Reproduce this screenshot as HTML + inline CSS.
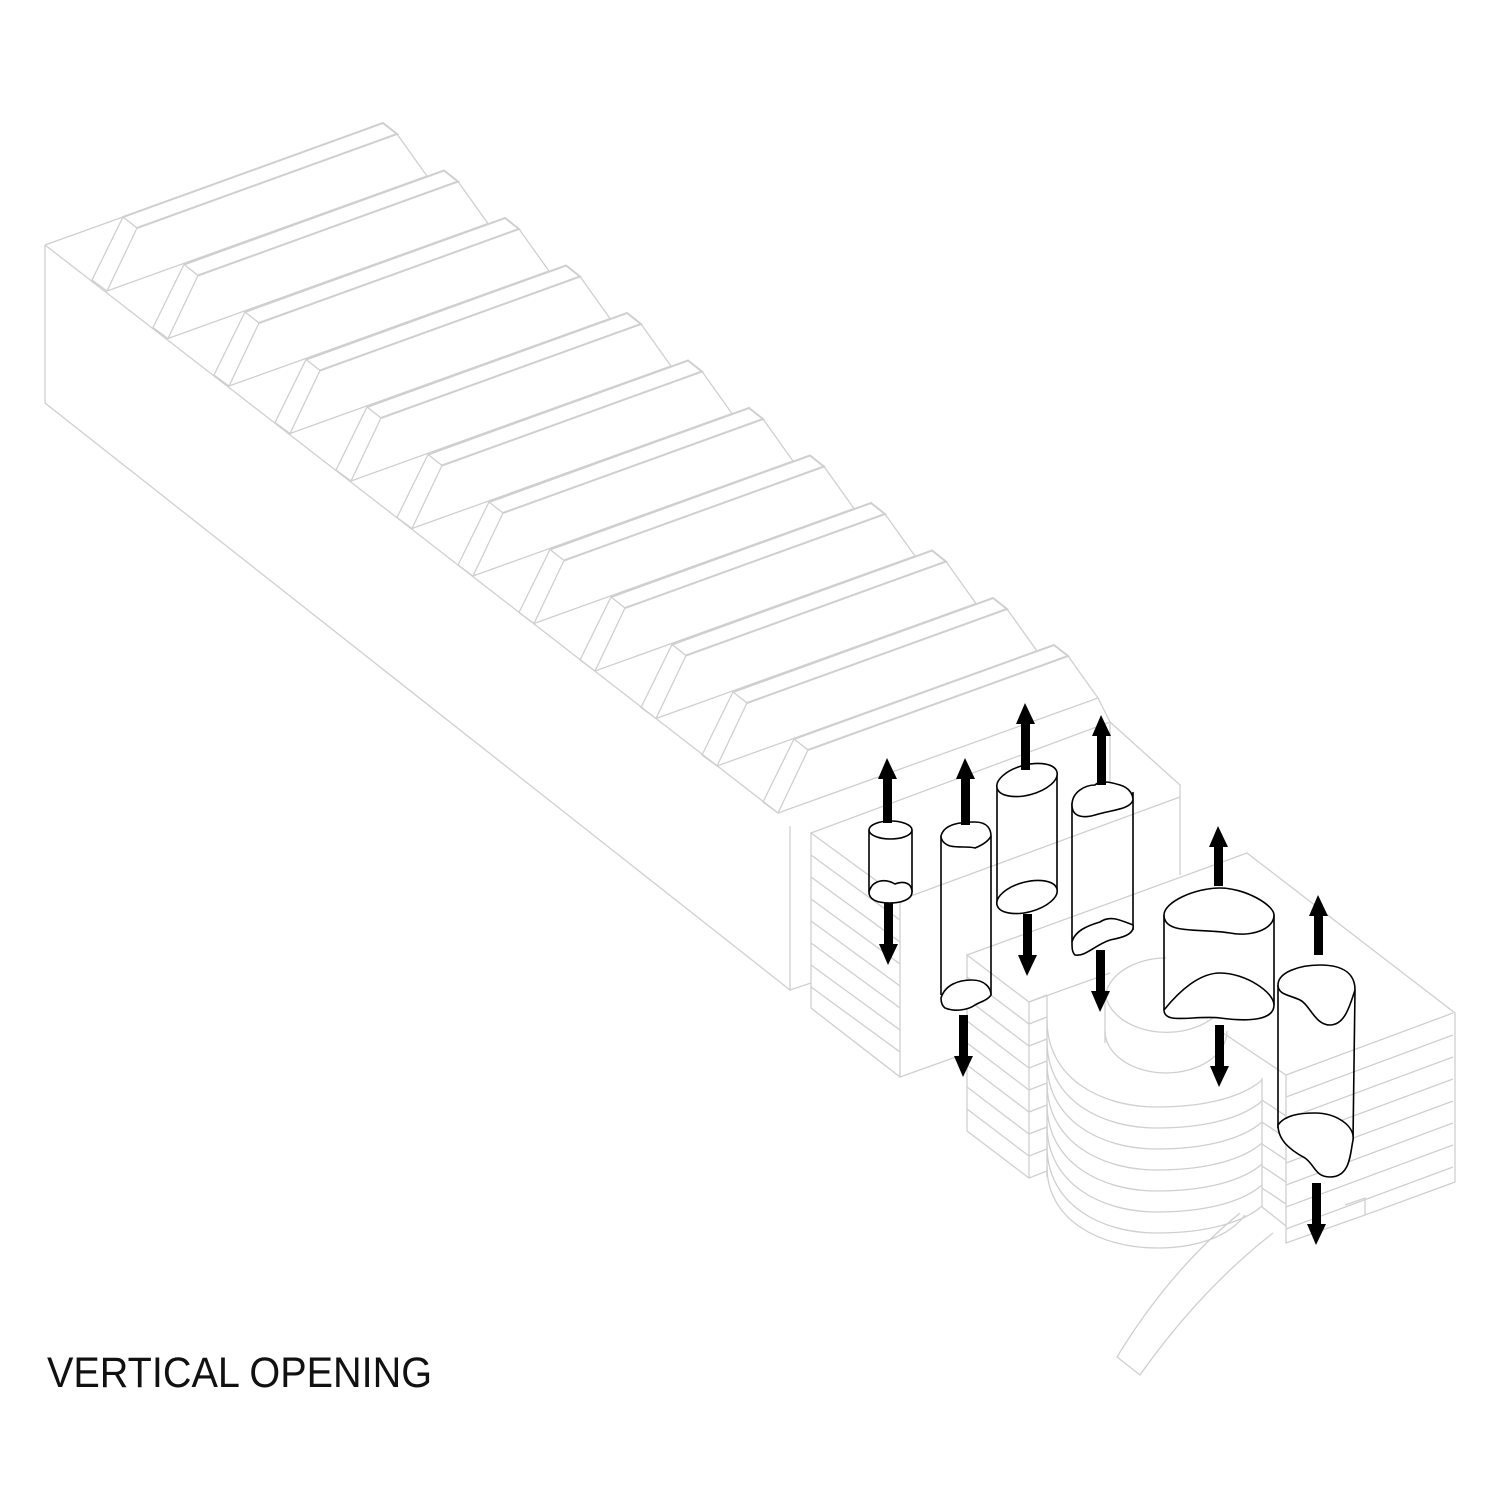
<!DOCTYPE html>
<html><head><meta charset="utf-8"><style>
html,body{margin:0;padding:0;background:#fff;}
svg{display:block;}
</style></head><body>
<svg width="1499" height="1499" viewBox="0 0 1499 1499" xmlns="http://www.w3.org/2000/svg">
<defs>
<g id="t" fill="none" stroke="#cfcfcf" stroke-width="1.3">
  <path d="M92,280 L123,217 L137,228 L107,291 Z"/>
  <path d="M123,217 L383,123 L397,134 L137,228" stroke-width="2"/>
  <path d="M107,291 L427,176 L397,134"/>
</g>
<path id="arc" d="M1047,1020 C1047,1078 1100,1107 1157,1107 C1210,1107 1245,1095 1262,1080"/>
</defs>
<rect width="1499" height="1499" fill="#fff"/>
<g fill="none" stroke="#cfcfcf" stroke-width="1.3">
  <path d="M45,245 L123,217"/>
  <path d="M45,245 L45,403 L790,990 L790,826"/>
  <path d="M45,245 L778,813"/>
</g>
<use href="#t" x="0" y="0"/><use href="#t" x="61" y="47.5"/><use href="#t" x="122" y="95"/>
<use href="#t" x="183" y="142.5"/><use href="#t" x="244" y="190"/><use href="#t" x="305" y="237.5"/>
<use href="#t" x="366" y="285"/><use href="#t" x="427" y="332.5"/><use href="#t" x="488" y="380"/>
<use href="#t" x="549" y="427.5"/><use href="#t" x="610" y="475"/><use href="#t" x="671" y="522"/>
<g fill="none" stroke="#cfcfcf" stroke-width="1.3">
  <path d="M1098,698 L1110,722 L1110,790"/>
  <path d="M811,833 L1110,722 M1110,722 L1180,785 L1180,875"/>
  <path d="M790,990 L811,983"/>
  <path d="M811,833 L811,1008 L900,1077 L900,898 Z"/>
  <path d="M811,855 L900,920 M811,877 L900,942 M811,899 L900,964 M811,921 L900,986 M811,943 L900,1008 M811,965 L900,1030 M811,987 L900,1052"/>
  <path d="M900,900 L1180,797"/>
  <path d="M900,1077 L967,1053"/>
  <path d="M967,955 L967,1131 L1029,1178 L1029,1002 Z"/>
  <path d="M967,977 L1029,1024 M967,999 L1029,1046 M967,1021 L1029,1068 M967,1043 L1029,1090 M967,1065 L1029,1112 M967,1087 L1029,1134 M967,1109 L1029,1156"/>
  <path d="M1029,1002 L1047,995 M1029,1024 L1047,1017 M1029,1046 L1047,1039 M1029,1068 L1047,1061 M1029,1090 L1047,1083 M1029,1112 L1047,1105 M1029,1134 L1047,1127 M1029,1156 L1047,1149 M1029,1178 L1047,1171"/>
  <path d="M967,955 L1247,853 L1455,1013 L1455,1182 L1365,1215 L1365,1198 L1345,1205"/>
  <path d="M1029,1002 L1110,973"/>
  <path d="M1047,995 L1047,1177"/>
  <path d="M1262,1078 L1262,1207"/>
  <use href="#arc" y="0"/><use href="#arc" y="21"/><use href="#arc" y="42"/><use href="#arc" y="63"/>
  <use href="#arc" y="84"/><use href="#arc" y="105"/><use href="#arc" y="126"/>
  <path d="M1047,1167 C1047,1220 1100,1248 1157,1248 C1200,1248 1230,1235 1245,1215"/>
  <path d="M1105,1000 A61,42 0 0 1 1166,958"/>
  <path d="M1105,990 L1105,1043"/>
  <path d="M1228,990 L1228,1000"/>
  <path d="M1105,990 A61,42 0 0 0 1228,990"/>
  <path d="M1105,1031 A61,42 0 0 0 1227,1031"/>
  <path d="M1223,1033 L1286,1075 L1453,1013"/>
  <path d="M1286,1075 L1286,1243 L1365,1215"/>
  <path d="M1262,1100 L1286,1116 M1262,1122 L1286,1138 M1262,1144 L1286,1160 M1262,1166 L1286,1182 M1262,1188 L1286,1204 M1262,1207 L1286,1226"/>
  <path d="M1286,1097 L1453,1035 M1286,1119 L1453,1057 M1286,1141 L1453,1079 M1286,1163 L1453,1101 M1286,1185 L1453,1123 M1286,1207 L1453,1145 M1286,1229 L1453,1167"/>
  <path d="M1240,1213 Q1170,1270 1117,1357 L1140,1375 Q1200,1290 1273,1233"/>
</g>
<g fill="#fff" stroke="#000" stroke-width="1.6">
  <path d="M869,830 L869,892 M912,830 L912,892" fill="none"/>
  <ellipse cx="890.5" cy="830" rx="21.5" ry="9"/>
  <path d="M869,892 C872,880 885,878 895,884 C905,880 912,884 912,892 C912,900 900,903 890,903 C878,903 869,900 869,892Z"/>
  <path d="M941,836 L941,995 M991,836 L991,995" fill="none"/>
  <path d="M941,836 C944,824 960,822 975,822 C988,822 991,830 991,836 C988,842 980,846 975,848 C968,846 960,848 950,846 C944,844 941,840 941,836Z"/>
  <path d="M941,998 C945,985 958,980 972,980 C985,980 991,988 991,995 C988,1000 980,1002 975,1005 C968,1010 955,1012 945,1008 C941,1005 941,1000 941,998Z"/>
  <path d="M997,788 L997,905 M1057,773 L1057,890" fill="none"/>
  <ellipse cx="1027" cy="780" rx="31" ry="15" transform="rotate(-15 1027 780)"/>
  <ellipse cx="1027" cy="897" rx="31" ry="15" transform="rotate(-15 1027 897)"/>
  <path d="M1072,803 L1072,942 M1133,792 L1133,930" fill="none"/>
  <path d="M1072,805 C1072,792 1085,785 1095,785 C1100,780 1110,782 1120,785 C1130,788 1133,795 1133,800 C1130,810 1110,810 1095,815 C1085,818 1072,818 1072,805Z"/>
  <path d="M1072,942 C1075,930 1090,925 1100,922 C1110,915 1120,920 1133,925 C1135,935 1120,938 1110,940 C1095,945 1085,957 1075,955 C1072,952 1072,948 1072,942Z"/>
  <path d="M1164,915 L1164,1010 M1274,915 L1274,1005" fill="none"/>
  <path d="M1164,915 C1164,902 1195,888 1220,888 C1245,888 1274,905 1274,915 C1274,930 1250,937 1230,933 C1200,928 1164,935 1164,915Z"/>
  <path d="M1164,1010 C1180,990 1200,973 1220,973 C1245,973 1274,992 1274,1005 C1274,1020 1250,1022 1220,1018 C1195,1015 1164,1025 1164,1010Z"/>
  <path d="M1278,985 L1278,1128 M1355,990 L1353,1140" fill="none"/>
  <path d="M1278,985 C1278,972 1300,965 1320,965 C1345,965 1355,975 1355,990 C1350,1005 1345,1025 1330,1025 C1315,1025 1310,1005 1300,1000 C1290,995 1278,995 1278,985Z"/>
  <path d="M1278,1125 C1285,1115 1300,1113 1315,1113 C1335,1113 1355,1125 1353,1140 C1350,1155 1350,1177 1330,1177 C1315,1177 1315,1165 1305,1158 C1290,1150 1278,1140 1278,1125Z"/>
</g>
<g fill="#000">
  <path d="M887,758 l10,21 h-5 v44 h-9 v-44 h-5 Z"/>
  <path d="M888,965 l10,-21 h-5 v-41 h-9 v41 h-5 Z"/>
  <path d="M965,758 l10,21 h-5 v46 h-9 v-46 h-5 Z"/>
  <path d="M963,1077 l10,-21 h-5 v-41 h-9 v41 h-5 Z"/>
  <path d="M1025,703 l10,21 h-5 v46 h-9 v-46 h-5 Z"/>
  <path d="M1027,976 l10,-21 h-5 v-41 h-9 v41 h-5 Z"/>
  <path d="M1101,715 l10,21 h-5 v49 h-9 v-49 h-5 Z"/>
  <path d="M1100,1012 l10,-21 h-5 v-41 h-9 v41 h-5 Z"/>
  <path d="M1218,826 l10,21 h-5 v39 h-9 v-39 h-5 Z"/>
  <path d="M1219,1087 l10,-21 h-5 v-41 h-9 v41 h-5 Z"/>
  <path d="M1318,895 l10,21 h-5 v39 h-9 v-39 h-5 Z"/>
  <path d="M1316,1245 l10,-21 h-5 v-41 h-9 v41 h-5 Z"/>
</g>
<text x="47" y="1387" font-family="'Liberation Sans', sans-serif" font-size="43" fill="#111" textLength="385" lengthAdjust="spacingAndGlyphs">VERTICAL OPENING</text>
</svg>
</body></html>
